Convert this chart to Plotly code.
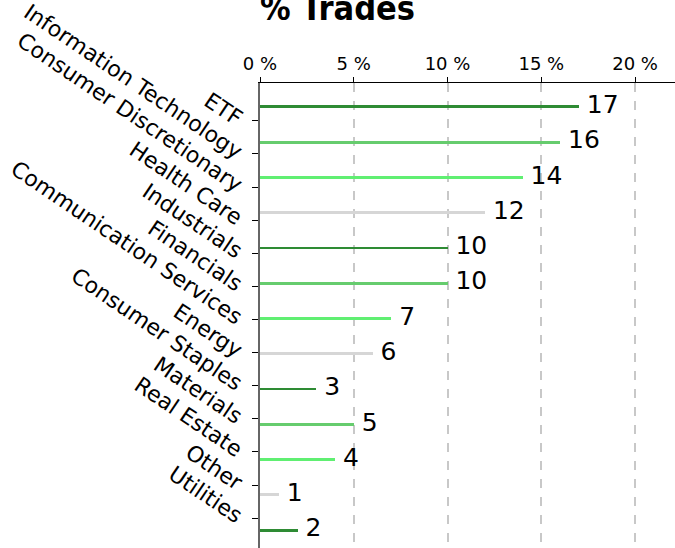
import plotly.graph_objects as go

categories = ["ETF", "Information Technology", "Consumer Discretionary", "Health Care",
              "Industrials", "Financials", "Communication Services", "Energy",
              "Consumer Staples", "Materials", "Real Estate", "Other", "Utilities"]
values = [17, 16, 14, 12, 10, 10, 7, 6, 3, 5, 4, 1, 2]
palette = ["#2e8b34", "#66cc6e", "#60ef72", "#d6d6d6"]
colors = [palette[i % 4] for i in range(len(categories))]
x_ticks = [0, 5, 10, 15, 20]
x_tick_text = [f"{t} %" for t in x_ticks]

fig = go.Figure()
# invisible trace to carry the category tick labels on y
fig.add_trace(go.Scatter(x=[0] * len(categories), y=categories, mode="markers",
                         marker=dict(opacity=0), hoverinfo="skip", showlegend=False,
                         yaxis="y"))
fig.add_trace(go.Bar(x=values, y=categories, orientation="h", marker_color=colors,
                     marker_line_width=0, width=0.08, yaxis="y2", showlegend=False))
fig.add_trace(go.Scatter(x=values, y=categories, mode="text", text=[" " + str(v) for v in values],
                         textposition="middle right",
                         textfont=dict(size=25, color="black", family="DejaVu Sans"),
                         yaxis="y2", showlegend=False, cliponaxis=False))

fig.update_layout(
    width=675, height=548,
    margin=dict(l=260, r=0, t=80, b=0),
    paper_bgcolor="white", plot_bgcolor="white",
    font=dict(family="DejaVu Sans", color="black"),
    title=dict(text="<b>% Trades</b>", x=0.5, xref="container", xanchor="center",
               y=0.985, yref="container", yanchor="middle",
               font=dict(size=34, family="DejaVu Sans Condensed, Liberation Sans Narrow, DejaVu Sans", color="black")),
    xaxis=dict(side="top", range=[0, 22.13], tickmode="array", tickvals=x_ticks,
               ticktext=x_tick_text,
               tickfont=dict(size=18, family="DejaVu Sans"), showline=True, linecolor="black", linewidth=1.2,
               ticks="outside", ticklen=5, tickcolor="black",
               showgrid=True, gridcolor="#c8c8c8", griddash="dash", gridwidth=1.5,
               zeroline=False),
    yaxis=dict(type="category", range=[12.9, -1.14], tickangle=34,
               tickfont=dict(size=22, family="DejaVu Sans"), showline=True, linecolor="#666", linewidth=1.5,
               ticks="outside", ticklen=6, tickcolor="black", showgrid=False,
               ticklabelstandoff=6),
    yaxis2=dict(type="category", overlaying="y", range=[12.507, -0.676], visible=False,
                showgrid=False),
    bargap=0,
)

fig.write_html("out.html")
